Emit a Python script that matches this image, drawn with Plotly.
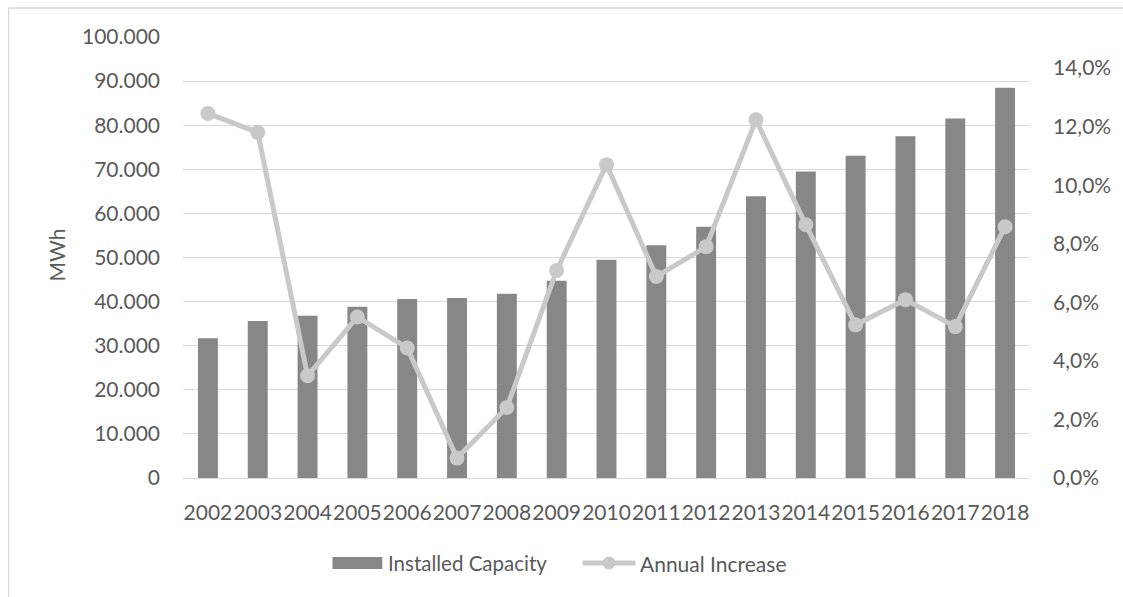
import plotly.graph_objects as go

# Installed capacity (MWh) and its annual increase, 2002-2018
years = ["2002", "2003", "2004", "2005", "2006", "2007", "2008", "2009", "2010",
         "2011", "2012", "2013", "2014", "2015", "2016", "2017", "2018"]
installed_capacity = [31700, 35600, 36800, 38850, 40600, 40800, 41800, 44700, 49500,
                      52800, 57000, 63900, 69500, 73100, 77500, 81500, 88500]
annual_increase = [0.1245, 0.1180, 0.0349, 0.0550, 0.0444, 0.0068, 0.0241, 0.0709, 0.1070,
                   0.0688, 0.0790, 0.1223, 0.0865, 0.0523, 0.0609, 0.0517, 0.0858]

BAR_COLOR = "#878787"
LINE_COLOR = "#c9c9c9"
GRID_COLOR = "#d9d9d9"
TEXT_COLOR = "#595959"
FONT = "Lato, 'Open Sans', sans-serif"

# Plot-area geometry in pixels (used to place the frame and legend in paper units)
W, H = 1123, 597
L, R, T, B = 183, 90, 37, 119
PW, PH = W - L - R, H - T - B


def px_x(x):
    return (x - L) / PW


def px_y(y):
    return (H - B - y) / PH


fig = go.Figure()
fig.add_trace(go.Bar(
    x=years, y=installed_capacity, name="Installed Capacity",
    marker=dict(color=BAR_COLOR, line=dict(width=0)),
    showlegend=False,
))
fig.add_trace(go.Scatter(
    x=years, y=annual_increase, name="Annual Increase", yaxis="y2",
    mode="lines+markers",
    line=dict(color=LINE_COLOR, width=5),
    marker=dict(color=LINE_COLOR, size=15),
    showlegend=False,
))

shapes = [
    # outer chart frame (top and left edges visible)
    dict(type="line", xref="paper", yref="paper",
         x0=px_x(8), x1=px_x(W + 20), y0=px_y(8), y1=px_y(8),
         line=dict(color=GRID_COLOR, width=1.3)),
    dict(type="line", xref="paper", yref="paper",
         x0=px_x(8), x1=px_x(8), y0=px_y(8), y1=px_y(H + 20),
         line=dict(color=GRID_COLOR, width=1.3)),
    # legend: bar swatch
    dict(type="rect", xref="paper", yref="paper",
         x0=px_x(333), x1=px_x(383), y0=px_y(569), y1=px_y(557),
         fillcolor=BAR_COLOR, line=dict(width=0)),
    # legend: line swatch
    dict(type="line", xref="paper", yref="paper",
         x0=px_x(584), x1=px_x(637), y0=px_y(563), y1=px_y(563),
         line=dict(color=LINE_COLOR, width=5)),
    dict(type="circle", xref="paper", yref="paper",
         x0=px_x(604), x1=px_x(617), y0=px_y(569.5), y1=px_y(556.5),
         fillcolor=LINE_COLOR, line=dict(width=0)),
]

annotations = [
    dict(text="MWh", xref="paper", yref="paper", x=px_x(57), y=px_y(255),
         textangle=-90, showarrow=False, xanchor="center", yanchor="middle",
         font=dict(size=21, color=TEXT_COLOR, family=FONT)),
    dict(text="Installed Capacity", xref="paper", yref="paper",
         x=px_x(387), y=px_y(563), showarrow=False, xanchor="left", yanchor="middle",
         font=dict(size=20.5, color=TEXT_COLOR, family=FONT)),
    dict(text="Annual Increase", xref="paper", yref="paper",
         x=px_x(640), y=px_y(563), showarrow=False, xanchor="left", yanchor="middle",
         font=dict(size=21, color=TEXT_COLOR, family=FONT)),
]

fig.update_layout(
    width=W, height=H,
    margin=dict(l=L, r=R, t=T, b=B, pad=0),
    paper_bgcolor="white", plot_bgcolor="white",
    separators=",.",
    font=dict(family=FONT, size=21, color=TEXT_COLOR),
    bargap=0.6,
    showlegend=False,
    xaxis=dict(
        type="category", range=[-0.5, len(years) - 0.5],
        showgrid=False, showline=True, linecolor=GRID_COLOR,
        linewidth=1.3, ticks="", ticklabelstandoff=16, tickangle=0,
        tickfont=dict(size=21, color=TEXT_COLOR, family=FONT),
    ),
    yaxis=dict(
        range=[0, 100000], tick0=0, dtick=10000, tickformat=",d",
        showgrid=True, gridcolor=GRID_COLOR, gridwidth=1.3,
        zeroline=False, showline=False, ticks="", ticklabelstandoff=22,
        tickfont=dict(size=21, color=TEXT_COLOR, family=FONT),
    ),
    yaxis2=dict(
        overlaying="y", side="right",
        range=[0, 0.1506], tick0=0, dtick=0.02, tickformat=".1%",
        showgrid=False, zeroline=False, showline=False, ticks="",
        ticklabelstandoff=22,
        tickfont=dict(size=21, color=TEXT_COLOR, family=FONT),
    ),
    shapes=shapes,
    annotations=annotations,
)

fig.write_html("out.html")
